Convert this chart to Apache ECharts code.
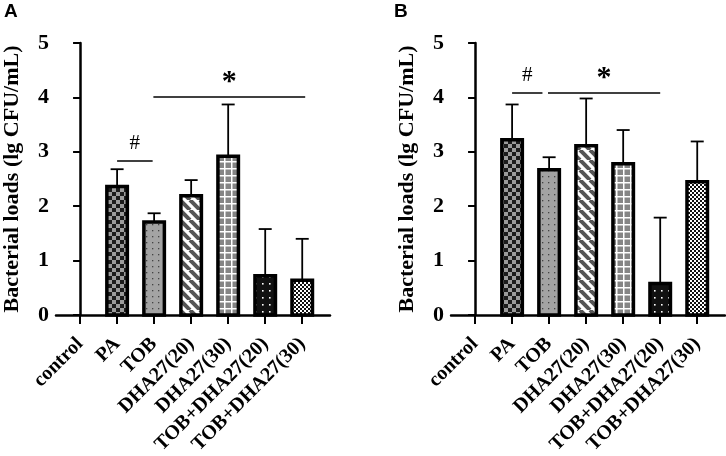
<!DOCTYPE html>
<html>
<head>
<meta charset="utf-8">
<script src="https://cdn.jsdelivr.net/npm/echarts@6/dist/echarts.min.js"></script>
<style>
  html,body{margin:0;padding:0;background:#fff;}
  #chart{width:726px;height:456px;}
</style>
</head>
<body>
<div id="chart"></div>
<script>
var categories = ['control','PA','TOB','DHA27(20)','DHA27(30)','TOB+DHA27(20)','TOB+DHA27(30)'];
var meanA  = [0, 2.36, 1.71, 2.19, 2.92, 0.72, 0.64];
var upperA = [null, 2.68, 1.87, 2.48, 3.87, 1.58, 1.40];
var meanB  = [0, 3.22, 2.67, 3.11, 2.78, 0.58, 2.45];
var upperB = [null, 3.87, 2.90, 3.98, 3.40, 1.79, 3.19];
var yTicks = [0, 1, 2, 3, 4, 5];
// significance bars: mark, from category, to category, height
var sigA = [['#', 1, 1.96, 2.83], ['*', 1.98, 6.08, 4.01]];
var sigB = [['#', 1, 1.82, 4.08], ['*', 1.97, 5, 4.08]];

var serif = 'Liberation Serif';

// fill patterns, one per group
function pattern(kind){
    var c = document.createElement('canvas'), g;
    if(kind=='checker'){
        c.width=8;c.height=8;g=c.getContext('2d');
        g.fillStyle='#9b9b9b';g.fillRect(0,0,8,8);
        g.fillStyle='#1c1c1c';g.fillRect(0,0,4,4);g.fillRect(4,4,4,4);
    }else if(kind=='dotgrey'){
        c.width=6;c.height=6;g=c.getContext('2d');
        g.fillStyle='#a3a3a3';g.fillRect(0,0,6,6);
        g.fillStyle='#444';g.fillRect(2,2,1.3,1.3);
    }else if(kind=='stripe'){
        c.width=10;c.height=10;g=c.getContext('2d');
        g.fillStyle='#fff';g.fillRect(0,0,10,10);
        g.strokeStyle='#555';g.lineWidth=4;
        for(var o=-10;o<=10;o+=10){g.beginPath();g.moveTo(o,0);g.lineTo(o+10,10);g.stroke();}
    }else if(kind=='grid'){
        c.width=7;c.height=7;g=c.getContext('2d');
        g.fillStyle='#858585';g.fillRect(0,0,7,7);
        g.fillStyle='#fff';g.fillRect(0,0,7,1.5);g.fillRect(0,0,1.5,7);
    }else if(kind=='dotblack'){
        c.width=7;c.height=7;g=c.getContext('2d');
        g.fillStyle='#111';g.fillRect(0,0,7,7);
        g.fillStyle='#fff';g.fillRect(3,3,1.6,1.6);
    }else{
        c.width=4;c.height=4;g=c.getContext('2d');
        g.fillStyle='#fff';g.fillRect(0,0,4,4);
        g.fillStyle='#111';g.fillRect(0,0,2,2);g.fillRect(2,2,2,2);
    }
    return {image:c, repeat:'repeat'};
}
var fills = [null, pattern('checker'), pattern('dotgrey'), pattern('stripe'), pattern('grid'), pattern('dotblack'), pattern('finechecker')];

function barData(mean){
    var out=[];
    for(var i=0;i<mean.length;i++) out.push([i, mean[i]]);
    return out;
}
function errData(mean, upper){
    var out=[];
    for(var i=0;i<mean.length;i++){
        if(upper[i]!=null) out.push([i, mean[i], upper[i]]);
    }
    return out;
}
function sigData(sig){
    var out=[];
    for(var i=0;i<sig.length;i++){
        var s=sig[i], star = s[0]=='*';
        out.push([{coord:[s[1], s[3]], label:{
            formatter:s[0], fontFamily:serif, color:'#000',
            fontSize: star ? 30 : 21, fontWeight: star ? 'bold' : 'normal',
            distance: star ? 0 : 7
        }},{coord:[s[2], s[3]]}]);
    }
    return out;
}

function barRender(params, api){
    var x=api.value(0), v=api.value(1);
    if(!v) return;
    var base=api.coord([x, 0]), top=api.coord([x, v]), w=20.5;
    return {type:'rect', shape:{x:base[0]-w/2, y:top[1], width:w, height:base[1]-top[1]},
        style:{fill:fills[x], stroke:'#000', lineWidth:3.5}};
}
function errorRender(params, api){
    var x=api.value(0), top=api.coord([x, api.value(2)]), base=api.coord([x, api.value(1)]);
    var st={stroke:'#000', lineWidth:1.8};
    return {type:'group', children:[
        {type:'line', shape:{x1:top[0],y1:top[1],x2:base[0],y2:base[1]}, style:st},
        {type:'line', shape:{x1:top[0]-6.5,y1:top[1],x2:top[0]+6.5,y2:top[1]}, style:st}
    ]};
}

function xAxis(idx){
    return {
        type:'value', gridIndex:idx, min:-0.65, max:6.75,
        splitLine:{show:false},
        axisLine:{show:true, onZero:false, lineStyle:{color:'#000', width:2.5}},
        axisTick:{show:true, customValues:[0,1,2,3,4,5,6], length:9, lineStyle:{color:'#000', width:2}},
        axisLabel:{
            customValues:[0,1,2,3,4,5,6], rotate:45, margin:26,
            fontFamily:serif, fontWeight:'bold', fontSize:20, color:'#000',
            formatter:function(v){ return categories[Math.round(v)]; }
        }
    };
}
function yAxis(idx){
    return {
        type:'value', gridIndex:idx, min:yTicks[0], max:yTicks[yTicks.length-1], interval:1,
        splitLine:{show:false},
        axisLine:{show:true, lineStyle:{color:'#000', width:2.5}},
        axisTick:{show:true, length:7, lineStyle:{color:'#000', width:2}},
        axisLabel:{fontFamily:serif, fontWeight:'bold', fontSize:22, color:'#000', margin:7},
        name:'Bacterial loads (lg CFU/mL)', nameLocation:'middle', nameGap:33,
        nameTextStyle:{fontFamily:serif, fontWeight:'bold', fontSize:22, color:'#000'}
    };
}
function panel(idx, mean, upper, sig){
    return [{
        type:'custom', xAxisIndex:idx, yAxisIndex:idx, z:3,
        renderItem:barRender, data:barData(mean),
        markLine:{
            silent:true, symbol:'none', animation:false,
            lineStyle:{color:'#000', width:1.5, type:'solid'},
            label:{position:'middle'},
            data:sigData(sig)
        }
    },{
        type:'custom', xAxisIndex:idx, yAxisIndex:idx, z:2,
        renderItem:errorRender, data:errData(mean, upper)
    }];
}

var myChart = echarts.init(document.getElementById('chart'));
var option = {
    animation:false,
    title:[
        {text:'A', left:4, top:2, padding:0, textStyle:{fontFamily:'Liberation Sans', fontWeight:'bold', fontSize:19, color:'#000'}},
        {text:'B', left:394, top:2, padding:0, textStyle:{fontFamily:'Liberation Sans', fontWeight:'bold', fontSize:19, color:'#000'}}
    ],
    grid:[
        {left:56, top:43, width:274, height:272, outerBoundsMode:'none'},
        {left:451, top:43, width:274, height:272, outerBoundsMode:'none'}
    ],
    xAxis:[xAxis(0), xAxis(1)],
    yAxis:[yAxis(0), yAxis(1)],
    series:panel(0, meanA, upperA, sigA).concat(panel(1, meanB, upperB, sigB))
};
myChart.setOption(option);
</script>
</body>
</html>
